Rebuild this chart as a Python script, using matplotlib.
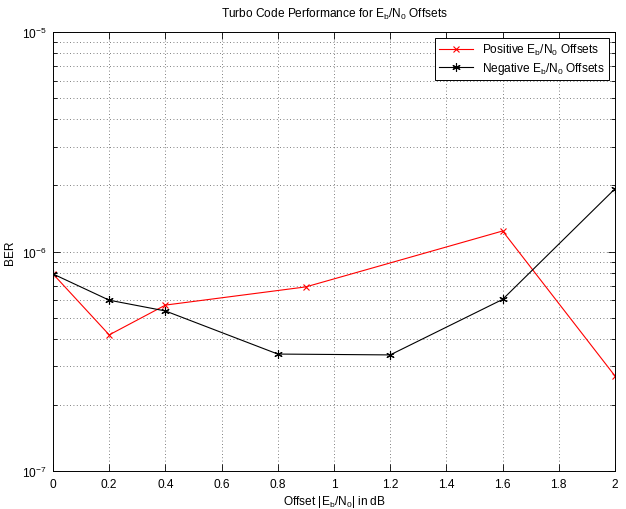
import matplotlib
matplotlib.use("Agg")
import matplotlib.pyplot as plt
from matplotlib.ticker import LogLocator, FixedLocator, NullFormatter

plt.rcParams["font.family"] = ["Liberation Sans", "DejaVu Sans"]
plt.rcParams["mathtext.default"] = "regular"

# Positive Eb/N0 offsets
pos_offset = [0.0, 0.2, 0.4, 0.9, 1.6, 2.0]
pos_ber = [7.9e-7, 4.17e-7, 5.7e-7, 6.9e-7, 1.24e-6, 2.71e-7]

# Negative Eb/N0 offsets
neg_offset = [0.0, 0.2, 0.4, 0.8, 1.2, 1.6, 2.0]
neg_ber = [7.9e-7, 6.0e-7, 5.36e-7, 3.41e-7, 3.38e-7, 6.05e-7, 1.93e-6]

x_ticks = [0, 0.2, 0.4, 0.6, 0.8, 1, 1.2, 1.4, 1.6, 1.8, 2]
x_tick_labels = ["0", "0.2", "0.4", "0.6", "0.8", "1", "1.2", "1.4", "1.6", "1.8", "2"]

FS = 8.6

fig = plt.figure(figsize=(6.26, 5.10), dpi=100)
ax = fig.add_axes([0.0847, 0.0745, 0.8977, 0.8608])

ax.plot(pos_offset, pos_ber, color="#ff0000", linewidth=0.8, marker="x",
        markersize=5, markeredgewidth=0.8,
        label="Positive E$_b$/N$_0$ Offsets")
ax.plot(neg_offset, neg_ber, color="#000000", linewidth=0.8, marker=(6, 2, 0),
        markersize=6, markeredgewidth=0.8,
        label="Negative E$_b$/N$_0$ Offsets")

ax.set_yscale("log")
ax.set_xlim(0, 2)
ax.set_ylim(1e-7, 1e-5)
ax.xaxis.set_major_locator(FixedLocator(x_ticks))
ax.set_xticklabels(x_tick_labels)
ax.yaxis.set_major_locator(LogLocator(base=10, numticks=10))
ax.yaxis.set_minor_locator(LogLocator(base=10, subs=range(2, 10), numticks=20))
ax.yaxis.set_minor_formatter(NullFormatter())

ax.tick_params(which="both", direction="in", top=True, right=True,
               labelsize=FS, width=0.6, pad=5)
ax.tick_params(which="major", length=5)
ax.tick_params(which="minor", length=3)

ax.grid(which="major", axis="both", linestyle=(0, (1, 3)), color="#555555", linewidth=0.6)
ax.grid(which="minor", axis="y", linestyle=(0, (1, 3)), color="#555555", linewidth=0.6)
for spine in ax.spines.values():
    spine.set_linewidth(0.7)

ax.set_title("Turbo Code Performance for E$_b$/N$_0$ Offsets", fontsize=FS, pad=11)
ax.set_xlabel("Offset |E$_b$/N$_0$| in dB", fontsize=FS, labelpad=2)
ax.set_ylabel("BER", fontsize=FS, labelpad=4)

leg = ax.legend(loc="upper right", fontsize=FS, fancybox=False, framealpha=1,
                edgecolor="black", borderaxespad=0.5, handlelength=2.8,
                borderpad=0.35, labelspacing=0.25)
leg.get_frame().set_linewidth(0.7)

fig.savefig("out.png", dpi=100)
